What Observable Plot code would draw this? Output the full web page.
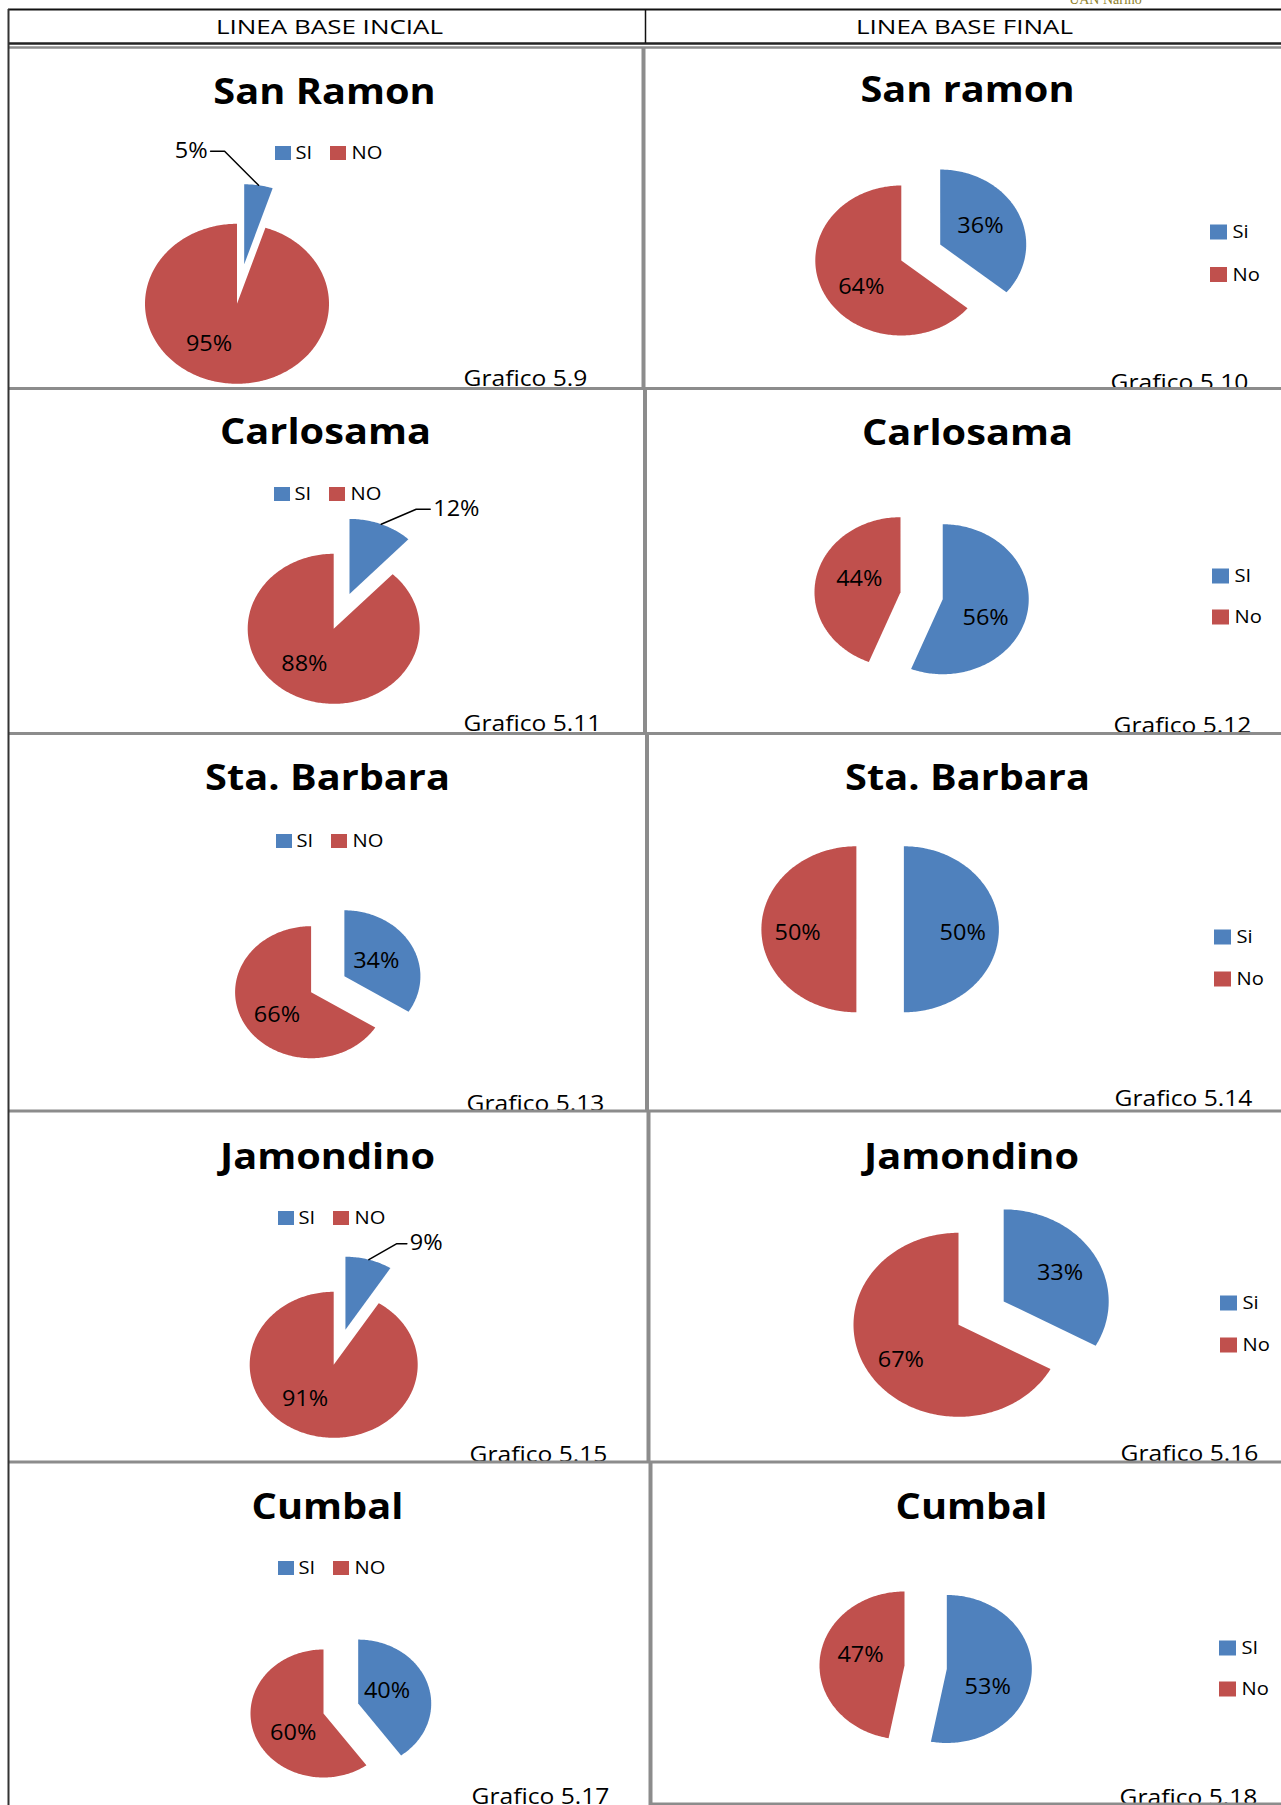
<!DOCTYPE html>
<html><head><meta charset="utf-8">
<script src="https://cdn.jsdelivr.net/npm/d3@7"></script>
<script src="https://cdn.jsdelivr.net/npm/@observablehq/plot@0.6"></script>
<style>html,body{margin:0;padding:0;background:#fff;} #chart svg{display:block}</style>
</head><body><div id="chart"></div>
<script>
// ---------- data ----------
const towns = ["San Ramon","San ramon","Carlosama","Carlosama","Sta. Barbara","Sta. Barbara","Jamondino","Jamondino","Cumbal","Cumbal"];
const graficos = ["Grafico 5.9","Grafico 5.10","Grafico 5.11","Grafico 5.12","Grafico 5.13","Grafico 5.14","Grafico 5.15","Grafico 5.16","Grafico 5.17","Grafico 5.18"];
const siPct = [5,36,12,56,34,50,9,33,40,53];
const noPct = [95,64,88,44,66,50,91,67,60,47];
const siLegend = ["SI","Si","SI","SI","SI","Si","SI","Si","SI","SI"];
const noLegend = ["NO","No","NO","No","NO","No","NO","No","NO","No"];
const columnHeads = ["LINEA BASE INCIAL","LINEA BASE FINAL"];
const corner = ["UAN Nariño"];

// ---------- layout (positions / sizes only) ----------
const L = [
 {cx:236.5, cy:303.3, rx:92, ry:80, tx:324, ty:92,  leg:"top",   lx:275, ly:153,  gx:463,  gy:385,  siLab:{out:[-34,-34,-14]}, noLab:[211,.59]},
 {cx:900.8, cy:260,   rx:86, ry:75, tx:967, ty:90,  leg:"right", lx:1210, ly:[232,274.5], gx:1110, gy:389, siLab:[62,.53], noLab:[232,.59]},
 {cx:333.2, cy:628.3, rx:86, ry:75, tx:325, ty:432, leg:"top",   lx:274, ly:494,  gx:463,  gy:730,  siLab:{out:[35,-15,14]}, noLab:[216,.58]},
 {cx:900,   cy:591.7, rx:86, ry:75, tx:967, ty:433, leg:"right", lx:1212, ly:[576,617], gx:1113, gy:732, siLab:[117,.56], noLab:[290,.51]},
 {cx:310.6, cy:991.7, rx:76, ry:66, tx:327, ty:778, leg:"top",   lx:276, ly:841,  gx:466,  gy:1110, siLab:[61,.48], noLab:[232,.57]},
 {cx:855.9, cy:928.8, rx:95, ry:83, tx:967, ty:778, leg:"right", lx:1214, ly:[937,979], gx:1114, gy:1105, siLab:[94,.62], noLab:[266,.62]},
 {cx:333.2, cy:1364.3,rx:84, ry:73, tx:327, ty:1157,leg:"top",   lx:278, ly:1218, gx:469,  gy:1461, siLab:{out:[28,-16,10]}, noLab:[216,.58]},
 {cx:958,   cy:1324.3,rx:105,ry:92, tx:971, ty:1157,leg:"right", lx:1220, ly:[1303,1345], gx:1120, gy:1460, siLab:[60,.62], noLab:[235,.67]},
 {cx:323,   cy:1713,  rx:73, ry:64, tx:327, ty:1507,leg:"top",   lx:278, ly:1568, gx:471,  gy:1803, siLab:[64,.44], noLab:[233,.52]},
 {cx:904,   cy:1665,  rx:85, ry:74, tx:971, ty:1507,leg:"right", lx:1219, ly:[1648,1689], gx:1119, gy:1804, siLab:[117,.54], noLab:[285,.535]}
];
const EXPLODE = 0.5;
const headPos = [[329,27],[964,27]];
const cornerPos = [1105,3];
const GRAY = "#8c8c8c";
// horizontal stretch of each text mark, in mark order (Calibri-like stretched proportions of the original)
const TEXT_STRETCH = [1.12, 1.12, 1.12, 1.12, 1.12, 1.12, 1.3, 1.0];
const frameH = [
 {y:9, x1:8, x2:1281, c:"#111", w:2},
 {y:43, x1:8, x2:1281, c:"#222", w:2.5},
 {y:47, x1:8, x2:1281, c:GRAY, w:2.5},
 {y:388, x1:8, x2:1281, c:GRAY, w:3},
 {y:733, x1:8, x2:1281, c:GRAY, w:3},
 {y:1110.5, x1:8, x2:1281, c:GRAY, w:3},
 {y:1461.5, x1:8, x2:1281, c:GRAY, w:3},
 {y:1803.5, x1:650, x2:1281, c:GRAY, w:3}
];
const frameV = [
 {x:8, y1:9, y2:1805, c:"#333", w:2},
 {x:645, y1:9, y2:43, c:"#111", w:1.5},
 {x:643, y1:47, y2:388, c:GRAY, w:4},
 {x:644.5, y1:388, y2:733, c:GRAY, w:4},
 {x:646.5, y1:733, y2:1110, c:GRAY, w:4},
 {x:648, y1:1110, y2:1461, c:GRAY, w:4},
 {x:650, y1:1461, y2:1805, c:GRAY, w:4}
];

// ---------- geometry from data ----------
const deg = Math.PI/180;
const slicePts = [], pctLabels = [], leaders = [], outLabels = [];
L.forEach((p, i) => {
  const vals = [{key:"SI", v:siPct[i]}, {key:"NO", v:noPct[i]}];
  const total = d3.sum(vals, d => d.v);
  let a = 0;
  vals.forEach(s => {
    const a0 = a, a1 = a + s.v/total*2*Math.PI; a = a1;
    const am = (a0+a1)/2;
    const ex = s.key === "SI" ? EXPLODE : 0;
    const vx = p.cx + ex*p.rx*Math.sin(am), vy = p.cy - ex*p.ry*Math.cos(am);
    const id = i + "-" + s.key;
    slicePts.push({id, key:s.key, x:vx, y:vy});
    const n = Math.max(2, Math.ceil((a1-a0)/deg));
    for (let k=0;k<=n;k++){ const t = a0+(a1-a0)*k/n; slicePts.push({id, key:s.key, x: vx+p.rx*Math.sin(t), y: vy-p.ry*Math.cos(t)}); }
    const lab = s.key==="SI" ? p.siLab : p.noLab;
    const text = s.v + "%";
    if (lab.out) {
      const [dx,dy,h] = lab.out;
      const x0 = vx + p.rx*Math.sin(am), y0 = vy - p.ry*Math.cos(am);
      leaders.push({id, x:x0,y:y0},{id,x:x0+dx,y:y0+dy},{id,x:x0+dx+h,y:y0+dy});
      outLabels.push({x:x0+dx+h+Math.sign(h)*3, y:y0+dy, text, anchor: h<0?"end":"start"});
    } else {
      const t = lab[0]*deg, f = lab[1];
      pctLabels.push({x: vx+f*p.rx*Math.sin(t), y: vy-f*p.ry*Math.cos(t), text});
    }
  });
});
const legRects = [], legTexts = [];
L.forEach((p,i) => {
  if (p.leg === "top") {
    legRects.push({key:"SI", x1:p.lx, x2:p.lx+16, y1:p.ly-7, y2:p.ly+7});
    legRects.push({key:"NO", x1:p.lx+55, x2:p.lx+71, y1:p.ly-7, y2:p.ly+7});
    legTexts.push({x:p.lx+20, y:p.ly, text:siLegend[i]});
    legTexts.push({x:p.lx+76, y:p.ly, text:noLegend[i]});
  } else {
    legRects.push({key:"SI", x1:p.lx, x2:p.lx+17, y1:p.ly[0]-7.5, y2:p.ly[0]+7.5});
    legRects.push({key:"NO", x1:p.lx, x2:p.lx+17, y1:p.ly[1]-7.5, y2:p.ly[1]+7.5});
    legTexts.push({x:p.lx+22, y:p.ly[0], text:siLegend[i]});
    legTexts.push({x:p.lx+22, y:p.ly[1], text:noLegend[i]});
  }
});

const chart = Plot.plot({
  width: 1281, height: 1805, margin: 0,
  x: {domain:[0,1281], range:[0,1281], axis:null},
  y: {domain:[0,1805], range:[0,1805], axis:null},
  color: {domain:["SI","NO"], range:["#4f81bd","#c0504d"]},
  style: {background:"#fff", fontFamily:"'Open Sans', sans-serif", color:"#000"},
  marks: [
    Plot.line(slicePts, {x:"x", y:"y", z:"id", fill:"key", stroke:"none", curve:"linear-closed"}),
    Plot.line(leaders, {x:"x", y:"y", z:"id", stroke:"#000", strokeWidth:1.5}),
    Plot.text(pctLabels, {x:"x", y:"y", text:"text", fontSize:21, fill:"#000"}),
    Plot.text(outLabels.filter(d=>d.anchor==="end"), {x:"x", y:"y", text:"text", fontSize:21, fill:"#000", textAnchor:"end"}),
    Plot.text(outLabels.filter(d=>d.anchor==="start"), {x:"x", y:"y", text:"text", fontSize:21, fill:"#000", textAnchor:"start"}),
    Plot.rect(legRects, {x1:"x1", x2:"x2", y1:"y1", y2:"y2", fill:"key"}),
    Plot.text(legTexts, {x:"x", y:"y", text:"text", fontSize:18, textAnchor:"start", fill:"#000"}),
    Plot.text(towns, {x:(d,i)=>L[i].tx, y:(d,i)=>L[i].ty, text:d=>d, fontSize:35.5, fontWeight:"bold", fill:"#000"}),
    Plot.text(graficos, {x:(d,i)=>L[i].gx, y:(d,i)=>L[i].gy, text:d=>d, fontSize:22, textAnchor:"start", lineAnchor:"bottom", fill:"#000"}),
    Plot.text(columnHeads, {x:(d,i)=>headPos[i][0], y:(d,i)=>headPos[i][1], text:d=>d, fontSize:20, fill:"#000"}),
    Plot.text(corner, {x:()=>cornerPos[0], y:()=>cornerPos[1], text:d=>d, fontSize:14, lineAnchor:"bottom", fill:"#8f7f2a", fontFamily:"'Liberation Serif', serif"}),
    Plot.ruleY(frameH, {y:"y", x1:"x1", x2:"x2", stroke:"c", strokeWidth:"w"}),
    Plot.ruleX(frameV, {x:"x", y1:"y1", y2:"y2", stroke:"c", strokeWidth:"w"})
  ]
});
document.getElementById("chart").appendChild(chart);
chart.querySelectorAll('g[aria-label="text"]').forEach((g, k) => {
  const s = TEXT_STRETCH[k] ?? 1.12;
  g.querySelectorAll("text").forEach(t => {
    const tr = t.getAttribute("transform") || "";
    t.setAttribute("transform", tr + ` scale(${s},1)`);
  });
});
</script></body></html>
